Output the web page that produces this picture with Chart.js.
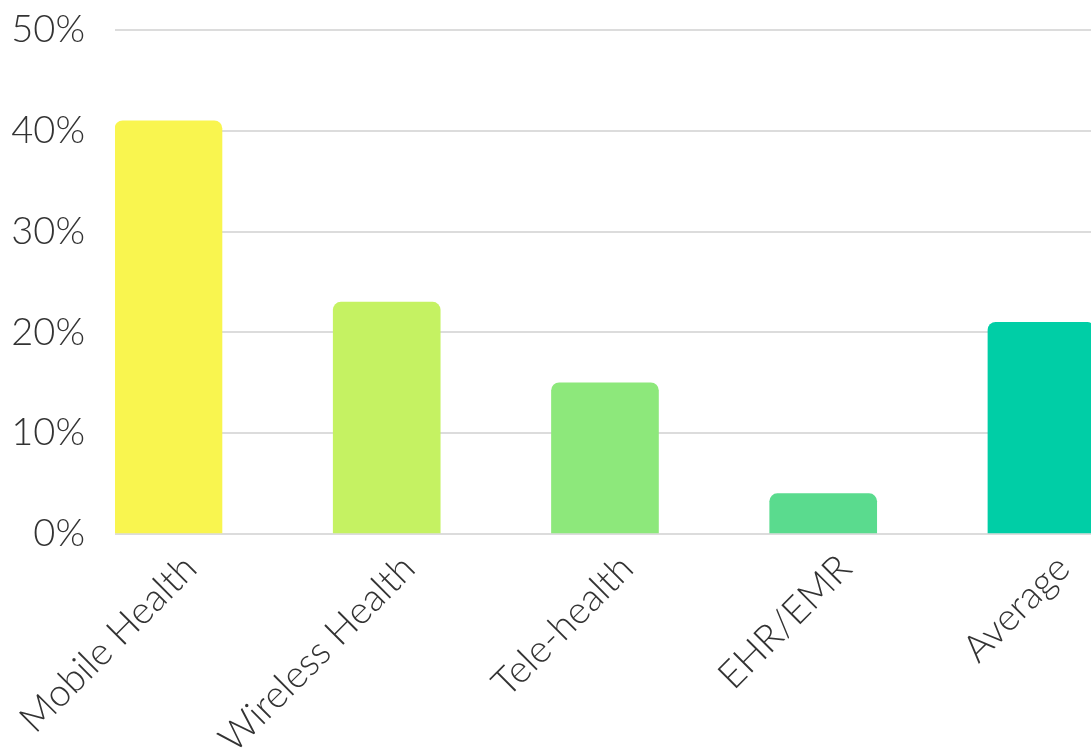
<!DOCTYPE html>
<html>
<head>
<meta charset="utf-8">
<script src="https://cdn.jsdelivr.net/npm/chart.js@4.4.0/dist/chart.umd.min.js"></script>
<style>
  html, body { margin: 0; padding: 0; background: #fff; overflow: hidden; }
  #wrap { width: 1091px; height: 751px; position: relative; }
</style>
</head>
<body>
<div id="wrap"><canvas id="chart"></canvas></div>
<script>
'use strict';

// Kategoriler ve değerler (%)
const categories = ['Mobile Health', 'Wireless Health', 'Tele-health', 'EHR/EMR', 'Average'];
const values     = [41, 23, 15, 4, 21];
const barColors  = ['#F9F54F', '#C5F262', '#8DE87B', '#5ADB8E', '#00CEA6'];
const yTicks     = [0, 10, 20, 30, 40, 50];

const FONT     = "'Lato', 'Open Sans', sans-serif";
const textClr  = '#333333';
const gridClr  = '#dcdcdc';

// Eksen iç boşluklarını sıfırla — çizim alanı sabit kalsın
function _noPad(s) {
  s.paddingTop = 0; s.paddingBottom = 0; s.paddingLeft = 0; s.paddingRight = 0;
}

new Chart(document.getElementById('chart'), {
  type: 'bar',
  data: {
    datasets: [{
      data:            values.map((v, i) => ({ x: i, y: v })),
      backgroundColor: barColors,
      borderRadius:    8,
      borderSkipped:   'start',
      barThickness:    107,
    }],
  },
  options: {
    responsive:          true,
    maintainAspectRatio: false,
    animation:           false,
    layout: { padding: { top: 30, right: 0, bottom: 0, left: 0 } },
    plugins: { legend: { display: false }, tooltip: { enabled: false } },
    scales: {
      x: {
        type:   'linear',
        offset: false,
        min:    -0.245,
        max:    4.227,
        grid:   { display: false },
        border: { display: false },
        afterBuildTicks: s => { s.ticks = categories.map((_, i) => ({ value: i })); },
        afterFit: s => { s.height = 217; _noPad(s); },
        ticks: {
          color: textClr,
          font: { family: FONT, size: 38, weight: 300 },
          minRotation: 45,
          maxRotation: 45,
          padding: 4,
          labelOffset: 22,
          callback: v => categories[v] ?? '',
        },
      },
      y: {
        min: 0,
        max: 50,
        afterBuildTicks: s => { s.ticks = yTicks.map(v => ({ value: v })); },
        afterFit: s => { s.width = 115; _noPad(s); },
        border: { display: false },
        grid: { color: gridClr, lineWidth: 2, drawTicks: false },
        ticks: {
          color: textClr,
          font: { family: FONT, size: 38, weight: 300 },
          padding: 30,
          callback: v => `${v}%`,
        },
      },
    },
  },
});
</script>
</body>
</html>
